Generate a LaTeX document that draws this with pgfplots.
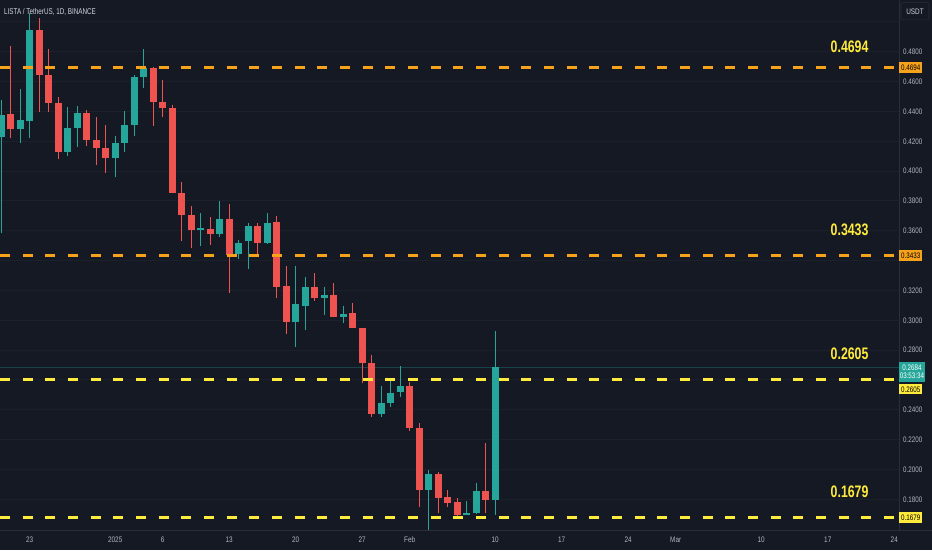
\documentclass[border=0pt]{standalone}
\usepackage{graphicx}
\usepackage{pgfplots}
\pgfplotsset{compat=1.18}
\usepackage{pgfplotstable}
\usepackage{fontspec}
\setmainfont{Liberation Sans}
\definecolor{bg}{HTML}{151924}
\definecolor{gridc}{HTML}{1C202B}
\definecolor{sep}{HTML}{2A2E39}
\definecolor{upc}{HTML}{26A69A}
\definecolor{dnc}{HTML}{EF5350}
\definecolor{org}{HTML}{F7A21B}
\definecolor{ylw}{HTML}{FFEB3B}
\definecolor{axtxt}{HTML}{B2B5BE}
\definecolor{ttl}{HTML}{D1D4DC}

\pgfplotstableread{
d o h l c
-3 0.4231 0.4476 0.3585 0.4376
-1 0.4280 0.4548 0.4186 0.4342
0 0.4335 0.5059 0.4222 0.4945
4 0.4130 0.4427 0.4103 0.4291
5 0.4291 0.4436 0.4163 0.4387
9 0.4086 0.4235 0.3958 0.4190
10 0.4190 0.4405 0.4130 0.4307
11 0.4307 0.4644 0.4235 0.4632
12 0.4628 0.4816 0.4555 0.4693
18 0.3603 0.3717 0.3498 0.3616
20 0.3578 0.3799 0.3560 0.3677
22 0.3444 0.3538 0.3411 0.3520
23 0.3531 0.3654 0.3342 0.3634
25 0.3516 0.3717 0.3510 0.3654
28 0.2986 0.3364 0.2823 0.3107
29 0.3098 0.3292 0.2935 0.3221
31 0.3147 0.3221 0.3035 0.3169
33 0.3024 0.3096 0.2980 0.3042
37 0.2370 0.2561 0.2354 0.2447
38 0.2447 0.2608 0.2421 0.2514
39 0.2519 0.2693 0.2484 0.2559
42 0.1862 0.1996 0.1594 0.1968
46 0.1693 0.1791 0.1693 0.1710
47 0.1706 0.1907 0.1701 0.1856
49 0.1795 0.2930 0.1695 0.2684
}\upcandles

\pgfplotstableread{
d o h l c
-2 0.4382 0.4838 0.4220 0.4280
1 0.4945 0.5024 0.4398 0.4644
2 0.4644 0.4816 0.4398 0.4458
3 0.4458 0.4498 0.4079 0.4130
6 0.4390 0.4409 0.4168 0.4208
7 0.4208 0.4364 0.4041 0.4157
8 0.4157 0.4309 0.3989 0.4086
13 0.4693 0.4700 0.4302 0.4461
14 0.4465 0.4610 0.4360 0.4421
15 0.4425 0.4443 0.3853 0.3855
16 0.3855 0.3925 0.3533 0.3705
17 0.3707 0.3766 0.3486 0.3605
19 0.3612 0.3690 0.3505 0.3578
21 0.3677 0.3779 0.3181 0.3437
24 0.3634 0.3650 0.3437 0.3516
26 0.3659 0.3699 0.3151 0.3225
27 0.3230 0.3364 0.2906 0.2986
30 0.3221 0.3315 0.3131 0.3147
32 0.3169 0.3248 0.3024 0.3024
34 0.3047 0.3118 0.2950 0.2950
35 0.2950 0.2950 0.2578 0.2712
36 0.2712 0.2767 0.2350 0.2370
40 0.2559 0.2588 0.2260 0.2276
41 0.2276 0.2313 0.1746 0.1862
43 0.1970 0.1981 0.1706 0.1811
44 0.1813 0.1862 0.1746 0.1773
45 0.1780 0.1807 0.1688 0.1695
48 0.1856 0.2179 0.1706 0.1795
}\dncandles

\newcommand{\axfont}{\fontsize{6}{7}\selectfont}
\newcommand{\lvfont}{\bfseries\fontsize{12.5}{14}\selectfont}

\begin{document}
\begin{tikzpicture}[x=0.75pt,y=0.75pt]
\useasboundingbox (0,0) rectangle (932,550);
\fill[bg] (0,0) rectangle (932,550);
\begin{axis}[
  at={(0pt,412.5pt)}, anchor=north west, scale only axis,
  width=674.25pt, height=397.5pt,
  xmin=-3.126, xmax=91.5, ymin=0.1594, ymax=0.5147,
  axis line style={draw=none},
  major tick length=0pt,
  ytick={0.18,0.20,0.22,0.24,0.26,0.28,0.30,0.32,0.34,0.36,0.38,0.40,0.42,0.44,0.46,0.48,0.50},
  yticklabels={0.1800,0.2000,0.2200,0.2400,,0.2800,0.3000,0.3200,,0.3600,0.3800,0.4000,0.4200,0.4400,0.4600,0.4800,},
  yticklabel pos=right,
  yticklabel style={anchor=west, inner sep=0pt, xshift=3pt, font=\axfont, text=axtxt, xscale=0.78},
  xtick={0,9,14,21,28,35,40,49,56,63,68,77,84,91},
  xticklabels={23,2025,6,13,20,27,Feb,10,17,24,Mar,10,17,24},
  xticklabel style={anchor=center, inner sep=0pt, yshift=-7.5pt, font=\axfont, text=axtxt, xscale=0.8},
  ymajorgrids, major grid style={gridc, line width=0.75pt},
]
% current price line
\addplot[forget plot, color=upc!30!bg, line width=0.75pt] coordinates {(-3.126,0.2684) (91.5,0.2684)};
% wicks and bodies
\addplot[draw=none, mark=none, forget plot, error bars/.cd, y dir=plus, y explicit, error mark=none,
  error bar style={draw=upc, line width=0.75pt, solid}] table[x=d, y=l, y error expr=\thisrow{h}-\thisrow{l}] {\upcandles};
\addplot[draw=none, mark=none, forget plot, error bars/.cd, y dir=plus, y explicit, error mark=none,
  error bar style={draw=upc, line width=5pt, solid}] table[x=d, y=o, y error expr=\thisrow{c}-\thisrow{o}] {\upcandles};
\addplot[draw=none, mark=none, forget plot, error bars/.cd, y dir=plus, y explicit, error mark=none,
  error bar style={draw=dnc, line width=0.75pt, solid}] table[x=d, y=l, y error expr=\thisrow{h}-\thisrow{l}] {\dncandles};
\addplot[draw=none, mark=none, forget plot, error bars/.cd, y dir=plus, y explicit, error mark=none,
  error bar style={draw=dnc, line width=5pt, solid}] table[x=d, y=c, y error expr=\thisrow{o}-\thisrow{c}] {\dncandles};
% levels
\addplot[forget plot, org, line width=2.2pt, dash pattern=on 7.6pt off 9.4pt] coordinates {(-3.126,0.4694) (91.5,0.4694)};
\addplot[forget plot, org, line width=2.2pt, dash pattern=on 7.6pt off 9.4pt] coordinates {(-3.126,0.3433) (91.5,0.3433)};
\addplot[forget plot, ylw, line width=2.2pt, dash pattern=on 7.6pt off 9.4pt] coordinates {(-3.126,0.2605) (91.5,0.2605)};
\addplot[forget plot, ylw, line width=2.2pt, dash pattern=on 7.6pt off 9.4pt] coordinates {(-3.126,0.1679) (91.5,0.1679)};
\coordinate (L1) at (axis cs:86.3,0.4694);
\coordinate (L2) at (axis cs:86.3,0.3433);
\coordinate (L3) at (axis cs:86.3,0.2605);
\coordinate (L4) at (axis cs:86.3,0.1679);
\coordinate (R1) at (axis cs:91.5,0.4694);
\coordinate (R2) at (axis cs:91.5,0.3433);
\coordinate (R3) at (axis cs:91.5,0.2605);
\coordinate (R4) at (axis cs:91.5,0.1679);
\coordinate (R5) at (axis cs:91.5,0.2684);
\end{axis}
% separators
\draw[sep, line width=0.75pt] (899,20) -- (899,550);
\draw[sep, line width=0.75pt] (0,20) -- (932,20);
% level labels
\node[text=ylw, font=\lvfont, xscale=0.74, yshift=15.4pt] at (L1) {0.4694};
\node[text=ylw, font=\lvfont, xscale=0.74, yshift=19.1pt] at (L2) {0.3433};
\node[text=ylw, font=\lvfont, xscale=0.74, yshift=19.1pt] at (L3) {0.2605};
\node[text=ylw, font=\lvfont, xscale=0.74, yshift=19.1pt] at (L4) {0.1679};
% price boxes
\node[anchor=west, fill=org, minimum width=17.25pt, minimum height=8pt, inner sep=0pt, text=black, font=\axfont] at (R1) {\scalebox{0.78}[1]{0.4694}};
\node[anchor=west, fill=org, minimum width=17.25pt, minimum height=8pt, inner sep=0pt, text=black, font=\axfont] at (R2) {\scalebox{0.78}[1]{0.3433}};
\node[anchor=west, fill=upc, minimum width=19pt, minimum height=15.2pt, inner sep=0pt, text=white, font=\axfont, align=center, yshift=-3.2pt] at (R5) {\scalebox{0.78}[1]{0.2684}\\[-0.8pt]\scalebox{0.78}[1]{03:53:34}};
\node[anchor=west, fill=ylw, minimum width=17.25pt, minimum height=7.6pt, inner sep=0pt, text=black, font=\axfont, yshift=-7.6pt] at (R3) {\scalebox{0.78}[1]{0.2605}};
\node[anchor=west, fill=ylw, minimum width=17.25pt, minimum height=8pt, inner sep=0pt, text=black, font=\axfont] at (R4) {\scalebox{0.78}[1]{0.1679}};
% USDT box
\node[fill=bg, draw=sep, rounded corners=1.5pt, minimum width=21pt, minimum height=13pt, inner sep=0pt, text=ttl, font=\axfont] at (915,538.7) {\scalebox{0.8}[1]{USDT}};
% title
\node[anchor=west, inner sep=0pt, text=ttl, font=\fontsize{6.3}{7}\selectfont, xscale=0.75] at (4,538.3) {LISTA / TetherUS, 1D, BINANCE};
\end{tikzpicture}
\end{document}
